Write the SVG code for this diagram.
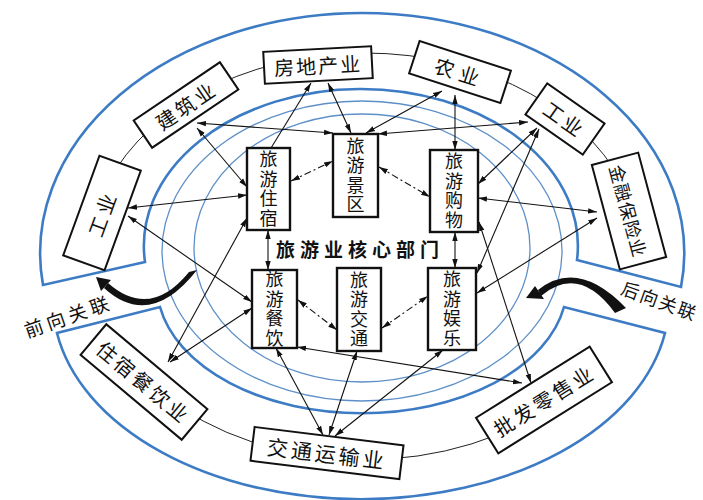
<svg xmlns="http://www.w3.org/2000/svg" width="703" height="500" viewBox="0 0 703 500">
<defs>
<marker id="ah" viewBox="0 0 10 10" refX="10" refY="5" markerWidth="9" markerHeight="9" markerUnits="userSpaceOnUse" orient="auto-start-reverse">
<path d="M0,2 L10,5 L0,8 z" fill="#111"/>
</marker>
<style>
.band{fill:none;stroke:#3d7cc4;stroke-width:2.6}
.ell{fill:none;stroke:#5d90c8;stroke-width:1.3}
.ring{fill:none;stroke:#222;stroke-width:1}
.box{fill:#fff;stroke:#111;stroke-width:2}
.core{fill:#fff;stroke:#111;stroke-width:2.4}
.lbl{font-family:"Noto Sans CJK SC","Noto Sans CJK JP",sans-serif;fill:#111;text-anchor:middle;dominant-baseline:central}
.in{font-size:18px;letter-spacing:1.5px;writing-mode:vertical-rl;text-orientation:upright}
.arr{fill:none;stroke:#111;stroke-width:1.1;marker-start:url(#ah);marker-end:url(#ah)}
.one{fill:none;stroke:#111;stroke-width:1.1;marker-end:url(#ah)}
.dash{fill:none;stroke:#111;stroke-width:1.1;stroke-dasharray:7 3 2 3;marker-start:url(#ah);marker-end:url(#ah)}
.big{fill:#111}
</style>
</defs>
<rect width="703" height="500" fill="#fff"/>
<g id="rings">
<path class="band" d="M43,285 A322,240 0 0 1 362,13 A322,240 0 0 1 681,287 L577,260 A217,157 0 1 0 145,262 Z"/>
<path class="band" d="M57,333 A308,198 0 0 0 665,333 L564,307 A205,128 0 0 1 160,307 Z"/>
<ellipse class="ell" cx="362" cy="251" rx="200" ry="150"/>
<ellipse class="ell" cx="362" cy="248" rx="168" ry="134"/>
<path class="ring" d="M100,200 A276,204 0 0 1 630,200"/>
<path class="ring" d="M143,377 A276,204 0 0 0 544,411"/>
</g>
<g id="connectors">
<path class="arr" d="M197,123 L333,133"/>
<path class="one" d="M271,148 L311,83"/>
<path class="arr" d="M328,83 L351,133"/>
<path class="arr" d="M366,133 L442,91"/>
<path class="arr" d="M455,95 L455,150"/>
<path class="arr" d="M378,134 L528,122"/>
<path class="arr" d="M478,184 L537,128"/>
<path class="arr" d="M539,129 L477,273"/>
<path class="arr" d="M479,222 L531,383"/>
<path class="arr" d="M478,198 L597,212"/>
<path class="arr" d="M477,293 L597,218"/>
<path class="arr" d="M128,208 L247,195"/>
<path class="arr" d="M128,216 L252,302"/>
<path class="arr" d="M197,128 L247,187"/>
<path class="arr" d="M168,362 L247,218"/>
<path class="arr" d="M170,362 L252,308"/>
<path class="arr" d="M276,348 L323,435"/>
<path class="arr" d="M357,351 L329,435"/>
<path class="arr" d="M443,350 L335,436"/>
<path class="arr" d="M297,347 L522,383"/>
<path class="arr" d="M268,230 L268,270"/>
<path class="arr" d="M455,232 L455,268"/>
<path class="dash" d="M291,181 L333,161"/>
<path class="dash" d="M379,167 L430,197"/>
<path class="dash" d="M298,300 L337,330"/>
<path class="dash" d="M382,328 L428,296"/>
</g>
<g id="relations">
<path class="big" d="M197,270 Q150,330 104,288 L108,283 Q150,320 189,272 Z"/>
<polygon class="big" points="96,277 111,280 101,291"/>
<path class="big" d="M626,308 Q578,258 538,290 L541,296 Q579,264 615,313 Z"/>
<polygon class="big" points="526,298 544,299 535,286"/>
<text class="lbl" x="68" y="315" font-size="19" letter-spacing="4" transform="rotate(-19 68 315)">前向关联</text>
<text class="lbl" x="660" y="300" font-size="18" letter-spacing="2" transform="rotate(20 660 300)">后向关联</text>
</g>
<g id="n-fangdichan" transform="translate(318,65) rotate(-3)">
<rect class="box" x="-54" y="-16" width="108" height="32"/>
<text class="lbl" x="0" y="0" font-size="20" letter-spacing="2">房地产业</text>
</g>
<g id="n-jianzhu" transform="translate(186,105) rotate(-34)">
<rect class="box" x="-52" y="-16.5" width="104" height="33"/>
<text class="lbl" x="0" y="0" font-size="20" letter-spacing="3">建筑业</text>
</g>
<g id="n-gongye-l" transform="translate(102,213) rotate(-70)">
<rect class="box" x="-53" y="-22" width="106" height="44"/>
<text class="lbl" x="0" y="0" font-size="20" letter-spacing="4">工业</text>
</g>
<g id="n-nongye" transform="translate(460,72) rotate(18)">
<rect class="box" x="-48" y="-17" width="96" height="34"/>
<text class="lbl" x="0" y="0" font-size="20" letter-spacing="6">农业</text>
</g>
<g id="n-gongye-r" transform="translate(565,119) rotate(35)">
<rect class="box" x="-35" y="-19" width="70" height="38"/>
<text class="lbl" x="0" y="0" font-size="20" letter-spacing="3">工业</text>
</g>
<g id="n-jinrong" transform="translate(629,211) rotate(75)">
<rect class="box" x="-54" y="-24" width="108" height="48"/>
<text class="lbl" x="0" y="0" font-size="18" letter-spacing="1">金融保险业</text>
</g>
<g id="n-zhusucanyinye" transform="translate(144,382) rotate(40)">
<rect class="box" x="-66" y="-20" width="132" height="40"/>
<text class="lbl" x="0" y="0" font-size="20" letter-spacing="3">住宿餐饮业</text>
</g>
<g id="n-jiaotongyunshu" transform="translate(327,453) rotate(7)">
<rect class="box" x="-75" y="-17" width="150" height="34"/>
<text class="lbl" x="0" y="0" font-size="21" letter-spacing="3">交通运输业</text>
</g>
<g id="n-pifalingshou" transform="translate(544,400) rotate(-32)">
<rect class="box" x="-67" y="-21" width="134" height="42"/>
<text class="lbl" x="0" y="0" font-size="20" letter-spacing="3">批发零售业</text>
</g>
<g id="n-zhusu">
<rect class="core" x="247" y="148" width="43" height="82"/>
<text class="lbl in" x="268.5" y="189.5">旅游住宿</text>
</g>
<g id="n-jingqu">
<rect class="core" x="333" y="134" width="45" height="83"/>
<text class="lbl in" x="355.5" y="176">旅游景区</text>
</g>
<g id="n-gouwu">
<rect class="core" x="430" y="150" width="48" height="82"/>
<text class="lbl in" x="454" y="191.5">旅游购物</text>
</g>
<g id="n-canyin">
<rect class="core" x="252" y="270" width="45" height="78"/>
<text class="lbl in" x="274.5" y="309.5">旅游餐饮</text>
</g>
<g id="n-jiaotong">
<rect class="core" x="337" y="268" width="44" height="83"/>
<text class="lbl in" x="359" y="310">旅游交通</text>
</g>
<g id="n-yule">
<rect class="core" x="428" y="268" width="48" height="82"/>
<text class="lbl in" x="452" y="309.5">旅游娱乐</text>
</g>
<g id="n-core">
<text class="lbl" x="360" y="248" font-size="19" font-weight="bold" letter-spacing="5">旅游业核心部门</text>
</g>
</svg>
